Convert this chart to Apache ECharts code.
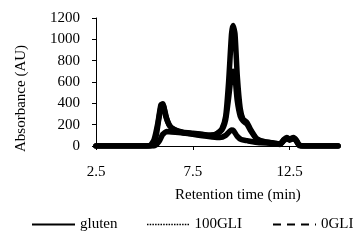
<!DOCTYPE html>
<html><head><meta charset="utf-8">
<script src="https://cdn.jsdelivr.net/npm/echarts@6/dist/echarts.min.js"></script>
<style>html,body{margin:0;padding:0;background:#fff}#c{width:364px;height:241px}</style>
</head><body><div id="c"></div>
<script>
var seriesNames = ['gluten', '100GLI', '0GLI'];
var xTickLabels = ['2.5', '7.5', '12.5'];
var glutenData = [[2.5,0],[5.0,0],[5.3,5],[5.5,60],[5.7,220],[5.85,385],[5.95,395],[6.1,280],[6.3,190],[6.6,150],[7.0,130],[7.5,120],[8.0,110],[8.4,100],[8.7,110],[9.0,160],[9.2,280],[9.35,600],[9.5,1050],[9.58,1130],[9.68,1050],[9.8,650],[9.95,350],[10.1,250],[10.3,220],[10.5,150],[10.8,70],[11.2,40],[11.6,30],[12.0,20],[12.2,60],[12.35,80],[12.5,65],[12.7,80],[12.85,55],[13.0,10],[13.3,0],[15,0]];
var gli100Data = [[2.5,0],[5.1,0],[5.4,10],[5.6,90],[5.75,260],[5.9,390],[6.0,370],[6.15,260],[6.35,180],[6.7,140],[7.0,125],[7.5,115],[8.0,105],[8.4,100],[8.7,110],[9.0,150],[9.2,250],[9.35,450],[9.5,680],[9.58,700],[9.68,640],[9.8,420],[9.95,280],[10.1,235],[10.3,205],[10.5,140],[10.8,65],[11.2,40],[11.6,28],[12.0,18],[12.2,55],[12.35,75],[12.5,60],[12.7,75],[12.85,50],[13.0,8],[13.3,0],[15,0]];
var gli0Data = [[2.5,0],[5.5,0],[5.75,40],[5.95,110],[6.15,135],[6.4,132],[7.0,122],[7.5,110],[8.0,95],[8.5,85],[8.9,80],[9.2,100],[9.5,150],[9.6,145],[9.8,90],[10.0,60],[10.3,50],[10.6,40],[11.0,30],[11.6,25],[12.0,15],[12.2,50],[12.35,70],[12.5,55],[12.7,70],[12.85,45],[13.0,5],[13.3,0],[15,0]];

var chart = echarts.init(document.getElementById('c'));
var font = 'Liberation Serif';
function mk(name, data) {
  return {name: name, type: 'line', data: data, symbol: 'none', smooth: 0.2,
    lineStyle: {color: '#000', width: 5.5, join: 'round', cap: 'round'}, itemStyle: {color: '#000'}};
}
function segPath(dash, gap, h) {
  var p = 'path://', x = 0;
  while (x < 43) { var w = Math.min(dash, 43 - x); p += 'M' + x + ',0h' + w + 'v' + h + 'h-' + w + 'z'; x += dash + gap; }
  return p;
}
function lg(name, left, icon, h) {
  return {left: left, top: 217, padding: 0, itemWidth: 43, itemHeight: h, itemGap: 0,
    textStyle: {color: '#000', fontFamily: font, fontSize: 15},
    data: [{name: name, icon: icon}], itemStyle: {color: '#000', borderWidth: 0}};
}
chart.setOption({
  animation: false,
  grid: {left: 96, right: 26, top: 18, bottom: 95},
  xAxis: {type: 'value', min: 2.5, max: 15, interval: 5,
    axisLine: {lineStyle: {color: '#000', width: 1}},
    axisTick: {show: true, length: 4, lineStyle: {color: '#000'}},
    splitLine: {show: false},
    axisLabel: {color: '#000', fontFamily: font, fontSize: 15, margin: 19,
      showMaxLabel: false,
      formatter: function (v) { var s = String(v); return xTickLabels.indexOf(s) >= 0 ? s : ''; }}
  },
  yAxis: {type: 'value', min: 0, max: 1200, interval: 200,
    axisLine: {show: true, lineStyle: {color: '#000', width: 1}},
    axisTick: {show: true, length: 4, lineStyle: {color: '#000'}},
    splitLine: {show: false},
    axisLabel: {color: '#000', fontFamily: font, fontSize: 15, margin: 16,
      formatter: function (v) { return String(v); }}
  },
  legend: [
    lg(seriesNames[0], 32, segPath(43, 0, 2), 2),
    lg(seriesNames[1], 147, segPath(1.5, 1.2, 1.5), 1.5),
    lg(seriesNames[2], 273, segPath(8, 6, 2), 2)
  ],
  graphic: [
    {type: 'text', left: 175, top: 188, style: {text: 'Retention time (min)', font: '15px "Liberation Serif"', fill: '#000'}},
    {type: 'text', x: 14, y: 152, rotation: Math.PI / 2, style: {text: 'Absorbance (AU)', font: '15px "Liberation Serif"', fill: '#000'}}
  ],
  series: [mk(seriesNames[0], glutenData), mk(seriesNames[1], gli100Data), mk(seriesNames[2], gli0Data)]
});
</script></body></html>
